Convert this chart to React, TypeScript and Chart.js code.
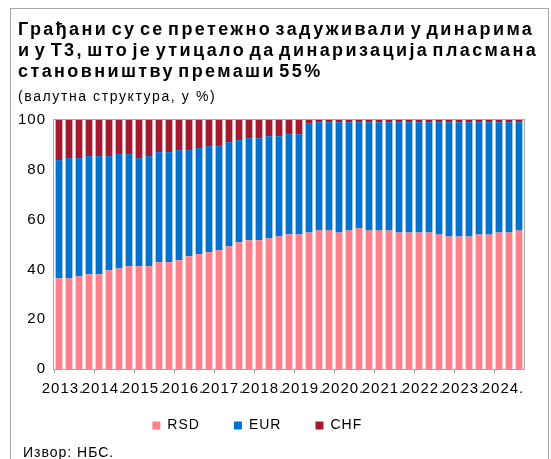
import { useEffect, useRef } from 'react';
import { Chart, registerables } from 'chart.js';

Chart.register(...registerables);

// ---- data (share of household loans by currency, %) ----
const quarters = [
  'Т1 2013', 'Т2 2013', 'Т3 2013', 'Т4 2013',
  'Т1 2014', 'Т2 2014', 'Т3 2014', 'Т4 2014',
  'Т1 2015', 'Т2 2015', 'Т3 2015', 'Т4 2015',
  'Т1 2016', 'Т2 2016', 'Т3 2016', 'Т4 2016',
  'Т1 2017', 'Т2 2017', 'Т3 2017', 'Т4 2017',
  'Т1 2018', 'Т2 2018', 'Т3 2018', 'Т4 2018',
  'Т1 2019', 'Т2 2019', 'Т3 2019', 'Т4 2019',
  'Т1 2020', 'Т2 2020', 'Т3 2020', 'Т4 2020',
  'Т1 2021', 'Т2 2021', 'Т3 2021', 'Т4 2021',
  'Т1 2022', 'Т2 2022', 'Т3 2022', 'Т4 2022',
  'Т1 2023', 'Т2 2023', 'Т3 2023', 'Т4 2023',
  'Т1 2024', 'Т2 2024', 'Т3 2024',
];

const yearLabels = [
  '2013.', '2014.', '2015.', '2016.', '2017.', '2018.',
  '2019.', '2020.', '2021.', '2022.', '2023.', '2024.',
];

const rsd = [
  36.4, 36.4, 37.2, 38.0, 38.0, 39.6, 40.4, 41.3, 41.3, 41.3, 42.9, 42.9,
  43.7, 45.3, 46.1, 46.9, 47.7, 49.3, 50.9, 51.7, 51.7, 52.5, 53.3, 54.1,
  54.0, 54.8, 55.6, 55.6, 54.8, 55.6, 56.5, 55.6, 55.6, 55.6, 54.8, 54.8,
  54.8, 54.8, 54.0, 53.2, 53.2, 53.2, 54.0, 54.0, 54.8, 54.8, 55.6,
];

const eur = [
  47.5, 48.3, 47.5, 47.5, 47.5, 45.9, 45.9, 45.0, 43.4, 44.2, 44.2, 44.2,
  44.2, 42.6, 42.6, 42.6, 41.8, 41.8, 41.0, 41.0, 41.0, 41.0, 40.2, 40.2,
  40.3, 43.7, 43.5, 43.5, 44.3, 43.5, 42.6, 43.5, 43.5, 43.5, 44.3, 44.3,
  44.3, 44.3, 45.1, 45.9, 45.9, 45.9, 45.1, 45.1, 44.3, 44.3, 43.5,
];

const chf = [
  16.1, 15.3, 15.3, 14.5, 14.5, 14.5, 13.7, 13.7, 15.3, 14.5, 12.9, 12.9,
  12.1, 12.1, 11.3, 10.5, 10.5, 8.9, 8.1, 7.3, 7.3, 6.5, 6.5, 5.7,
  5.7, 1.5, 0.9, 0.9, 0.9, 0.9, 0.9, 0.9, 0.9, 0.9, 0.9, 0.9,
  0.9, 0.9, 0.9, 0.9, 0.9, 0.9, 0.9, 0.9, 0.9, 0.9, 0.9,
];

const seriesNames = ['RSD', 'EUR', 'CHF'];

// ---- styles ----
const FONT = "'Liberation Sans', Arial, sans-serif";
const GRAY = '#a6a6a6';
const COLORS = ['#ff808b', '#0071cd', '#a5192f'];

const spacingPlugin = {
  id: 'spacing',
  beforeUpdate(chart: any) {
    chart.ctx.letterSpacing = '1px';
  },
  beforeDraw(chart: any) {
    chart.ctx.letterSpacing = '1px';
  },
};

// let the x tick labels draw below the (compact) x-axis box without clipping
const labelRoomPlugin = {
  id: 'labelRoom',
  afterLayout(chart: any) {
    const x = chart.scales.x;
    if (x) x.bottom = x.top + 40;
  },
};

const framePlugin = {
  id: 'frame',
  afterDatasetsDraw(chart: any) {
    const { ctx, chartArea: a } = chart;
    ctx.save();
    ctx.strokeStyle = GRAY;
    ctx.lineWidth = 1;
    const l = Math.round(a.left) - 0.5;
    const t = Math.round(a.top) - 0.5;
    const r = Math.round(a.right) + 0.5;
    const b = Math.round(a.bottom) + 0.5;
    ctx.strokeRect(l, t, r - l, b - t);
    ctx.restore();
  },
};

export default function App() {
  const ref = useRef<HTMLCanvasElement>(null);

  useEffect(() => {
    document.body.style.margin = '0';
    const canvas = ref.current!;
    const chart = new Chart(canvas, {
      type: 'bar',
      data: {
        labels: quarters,
        datasets: [rsd, eur, chf].map((d, i) => ({
          label: seriesNames[i],
          data: d,
          backgroundColor: COLORS[i],
          borderWidth: 0,
          barPercentage: 0.68,
          categoryPercentage: 1,
        })),
      },
      options: {
        responsive: false,
        animation: false,
        events: [],
        layout: { padding: { left: 8.6, right: 27, top: 120, bottom: 16.5 } },
        plugins: {
          title: { display: false },
          tooltip: { enabled: false },
          legend: {
            position: 'bottom',
            labels: {
              boxWidth: 8,
              boxHeight: 8,
              padding: 34,
              color: '#000',
              font: { family: FONT, size: 14 },
            },
          },
        },
        scales: {
          x: {
            stacked: true,
            offset: true,
            grid: {
              offset: true,
              drawOnChartArea: false,
              drawTicks: true,
              tickLength: 4,
              color: (c: any) => (c.index % 4 === 0 ? GRAY : 'rgba(0,0,0,0)'),
            },
            border: { display: false },
            ticks: {
              autoSkip: false,
              maxRotation: 0,
              minRotation: 0,
              padding: 7,
              labelOffset: 4,
              color: '#000',
              font: { family: FONT, size: 15 },
              callback: (_v: any, i: number) => (i % 4 === 0 ? yearLabels[i / 4] : ''),
            },
            afterFit: (a: any) => {
              a.height = 15.5;
            },
          },
          y: {
            stacked: true,
            min: 0,
            max: 100,
            grid: { display: false, drawTicks: false },
            border: { display: false },
            ticks: {
              stepSize: 20,
              padding: 8,
              color: '#000',
              font: { family: FONT, size: 15 },
            },
            afterFit: (a: any) => {
              a.width = 63.4;
            },
          },
        },
      },
      plugins: [spacingPlugin, labelRoomPlugin, framePlugin],
    } as any);
    return () => chart.destroy();
  }, []);

  return (
    <div
      style={{
        position: 'relative',
        width: 551,
        height: 459,
        overflow: 'hidden',
        fontFamily: FONT,
        color: '#000',
        background: '#fff',
      }}
    >
      <div
        style={{
          position: 'absolute',
          left: 10,
          top: 8,
          width: 537,
          height: 470,
          border: `1px solid ${GRAY}`,
        }}
      />
      <div style={{ position: 'absolute', left: -18, top: 0, width: 569, height: 459 }}>
        <canvas ref={ref} width={569} height={459} style={{ display: 'block' }} />
      </div>
      <div
        style={{
          position: 'absolute',
          left: 18,
          top: 19,
          fontWeight: 'bold',
          fontSize: 18,
          lineHeight: '21px',
          letterSpacing: '2.4px',
          wordSpacing: '-4px',
          whiteSpace: 'nowrap',
        }}
      >
        Грађани су се претежно задуживали у динарима
        <br />
        и у Т3, што је утицало да динаризација пласмана
        <br />
        становништву премаши 55%
      </div>
      <div
        style={{
          position: 'absolute',
          left: 18,
          top: 88,
          fontSize: 14,
          lineHeight: '16px',
          letterSpacing: '1.6px',
          whiteSpace: 'nowrap',
        }}
      >
        (валутна структура, у %)
      </div>
      <div
        style={{
          position: 'absolute',
          left: 23,
          top: 444,
          fontSize: 14,
          lineHeight: '16px',
          letterSpacing: '1px',
          whiteSpace: 'nowrap',
        }}
      >
        Извор: НБС.
      </div>
    </div>
  );
}
